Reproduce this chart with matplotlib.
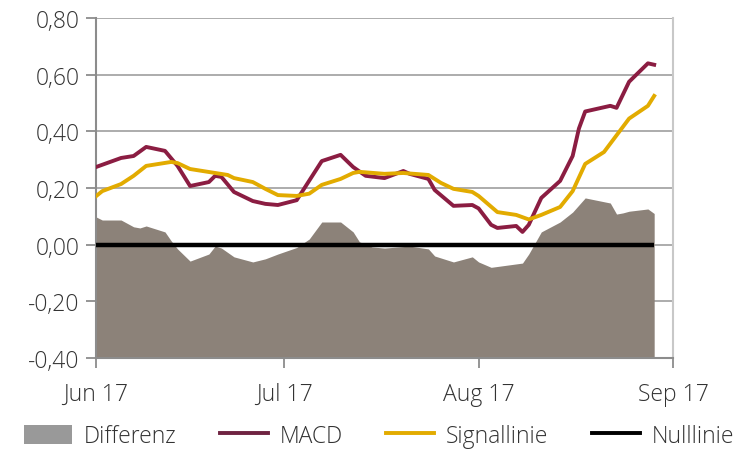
import numpy as np
import pandas as pd
import matplotlib
matplotlib.use("Agg")
import matplotlib.pyplot as plt
import matplotlib.dates as mdates
from matplotlib.patches import Patch
from matplotlib.lines import Line2D

# ---- data ----
macd_dates = ["2017-06-01", "2017-06-05", "2017-06-07", "2017-06-09", "2017-06-12",
              "2017-06-14", "2017-06-16", "2017-06-19", "2017-06-20", "2017-06-21",
              "2017-06-23", "2017-06-26", "2017-06-28", "2017-06-30", "2017-07-03",
              "2017-07-07", "2017-07-10", "2017-07-12", "2017-07-14", "2017-07-17",
              "2017-07-20", "2017-07-21", "2017-07-24", "2017-07-25", "2017-07-28",
              "2017-07-31", "2017-08-01", "2017-08-03", "2017-08-04", "2017-08-07",
              "2017-08-08", "2017-08-09", "2017-08-11", "2017-08-14", "2017-08-16",
              "2017-08-17", "2017-08-18", "2017-08-22", "2017-08-23", "2017-08-25",
              "2017-08-28", "2017-08-29"]
macd = [0.274, 0.306, 0.313, 0.345, 0.331,
        0.278, 0.207, 0.221, 0.243, 0.239,
        0.186, 0.154, 0.144, 0.140, 0.157,
        0.295, 0.317, 0.274, 0.243, 0.235,
        0.260, 0.250, 0.232, 0.193, 0.137,
        0.140, 0.128, 0.070, 0.059, 0.066,
        0.045, 0.070, 0.165, 0.225, 0.313,
        0.410, 0.470, 0.490, 0.483, 0.575,
        0.640, 0.635]

signal_dates = ["2017-06-01", "2017-06-02", "2017-06-05", "2017-06-07", "2017-06-09",
                "2017-06-13", "2017-06-14", "2017-06-16", "2017-06-22", "2017-06-23",
                "2017-06-26", "2017-06-28", "2017-06-30", "2017-07-03", "2017-07-05",
                "2017-07-07", "2017-07-10", "2017-07-12", "2017-07-13", "2017-07-17",
                "2017-07-20", "2017-07-24", "2017-07-26", "2017-07-28", "2017-07-31",
                "2017-08-01", "2017-08-04", "2017-08-07", "2017-08-09", "2017-08-11",
                "2017-08-14", "2017-08-16", "2017-08-18", "2017-08-21", "2017-08-25",
                "2017-08-28", "2017-08-29"]
signal = [0.171, 0.189, 0.214, 0.243, 0.278,
          0.292, 0.288, 0.267, 0.246, 0.235,
          0.221, 0.197, 0.175, 0.172, 0.180,
          0.211, 0.232, 0.253, 0.257, 0.250,
          0.253, 0.246, 0.218, 0.197, 0.186,
          0.172, 0.115, 0.105, 0.089, 0.105,
          0.133, 0.189, 0.285, 0.327, 0.445,
          0.490, 0.525]

diff_dates = ["2017-06-01", "2017-06-02", "2017-06-05", "2017-06-07", "2017-06-08",
              "2017-06-09", "2017-06-12", "2017-06-13", "2017-06-14", "2017-06-16",
              "2017-06-19", "2017-06-20", "2017-06-21", "2017-06-23", "2017-06-26",
              "2017-06-28", "2017-06-30", "2017-07-03", "2017-07-05", "2017-07-07",
              "2017-07-10", "2017-07-12", "2017-07-13", "2017-07-15", "2017-07-17",
              "2017-07-21", "2017-07-24", "2017-07-25", "2017-07-26", "2017-07-28",
              "2017-07-31", "2017-08-01", "2017-08-03", "2017-08-08", "2017-08-09",
              "2017-08-11", "2017-08-14", "2017-08-16", "2017-08-18", "2017-08-22",
              "2017-08-23", "2017-08-24", "2017-08-25", "2017-08-28", "2017-08-29"]
diff = [0.098, 0.087, 0.087, 0.063, 0.059,
        0.066, 0.045, 0.013, -0.015, -0.058,
        -0.033, -0.005, -0.012, -0.043, -0.061,
        -0.050, -0.033, -0.010, 0.020, 0.080,
        0.080, 0.045, 0.010, -0.008, -0.012,
        -0.005, -0.015, -0.040, -0.047, -0.061,
        -0.043, -0.061, -0.080, -0.065, -0.033,
        0.045, 0.080, 0.115, 0.165, 0.147,
        0.108, 0.112, 0.118, 0.126, 0.110]

y_ticks = [-0.4, -0.2, 0.0, 0.2, 0.4, 0.6, 0.8]

# ---- styling ----
C_AREA = "#8c8279"
C_MACD = "#8b1d42"
C_SIGNAL = "#e2ab00"
C_AXIS = "#8c8c8c"
C_GRID = "#a6a6a6"
C_TEXT = "#333333"

plt.rcParams["font.family"] = ["Open Sans", "DejaVu Sans"]
plt.rcParams["font.weight"] = "light"


def main():
    md = pd.to_datetime(macd_dates)
    sd = pd.to_datetime(signal_dates)
    dd = pd.to_datetime(diff_dates)

    fig = plt.figure(figsize=(7.33, 4.52), dpi=100)
    ax = fig.add_axes([96 / 733, 1 - 359 / 452, (673 - 96) / 733, (359 - 19) / 452])

    ax.fill_between(dd, y_ticks[0], diff, color=C_AREA, lw=0, zorder=2)
    ax.plot(dd, np.zeros(len(dd)), color="black", lw=3.2, zorder=3, solid_capstyle="butt")
    ax.plot(md, macd, color=C_MACD, lw=2.8, zorder=4, solid_joinstyle="round")
    ax.plot(sd, signal, color=C_SIGNAL, lw=2.8, zorder=5, solid_joinstyle="round")

    ax.set_xlim(pd.Timestamp("2017-06-01"), pd.Timestamp("2017-09-01"))
    ax.set_ylim(y_ticks[0], y_ticks[-1])
    ax.set_yticks(y_ticks)
    ax.set_yticklabels([f"{v:.2f}".replace(".", ",") for v in y_ticks])
    ax.xaxis.set_major_locator(mdates.MonthLocator())
    ax.xaxis.set_major_formatter(mdates.DateFormatter("%b %y"))

    ax.set_axisbelow(True)
    ax.yaxis.grid(True, color=C_GRID, lw=1.3)
    for side in ["left", "bottom"]:
        ax.spines[side].set_color(C_AXIS)
        ax.spines[side].set_linewidth(1.5)
    ax.spines["top"].set_visible(False)
    ax.spines["right"].set_color("#c8c8c8")
    ax.spines["right"].set_linewidth(1.5)
    ax.tick_params(axis="both", direction="out", length=7, width=1.3, color=C_AXIS,
                   labelsize=16.5, labelcolor=C_TEXT)
    ax.tick_params(axis="x", pad=10)
    ax.tick_params(axis="y", pad=5)

    handles = [Patch(facecolor="#999999", edgecolor="none"),
               Line2D([], [], color="#6f2341", lw=2.8),
               Line2D([], [], color=C_SIGNAL, lw=2.8),
               Line2D([], [], color="black", lw=2.8)]
    labels = ["Differenz", "MACD", "Signallinie", "Nulllinie"]
    fig.legend(handles, labels, loc="center", bbox_to_anchor=(0.517, 15 / 452), ncol=4,
               frameon=False, fontsize=16.5, handlelength=2.1, handleheight=0.9,
               handletextpad=0.5, columnspacing=1.9, labelcolor=C_TEXT,
               borderpad=0, borderaxespad=0)

    fig.savefig("out.png", dpi=100)


if __name__ == "__main__":
    main()
